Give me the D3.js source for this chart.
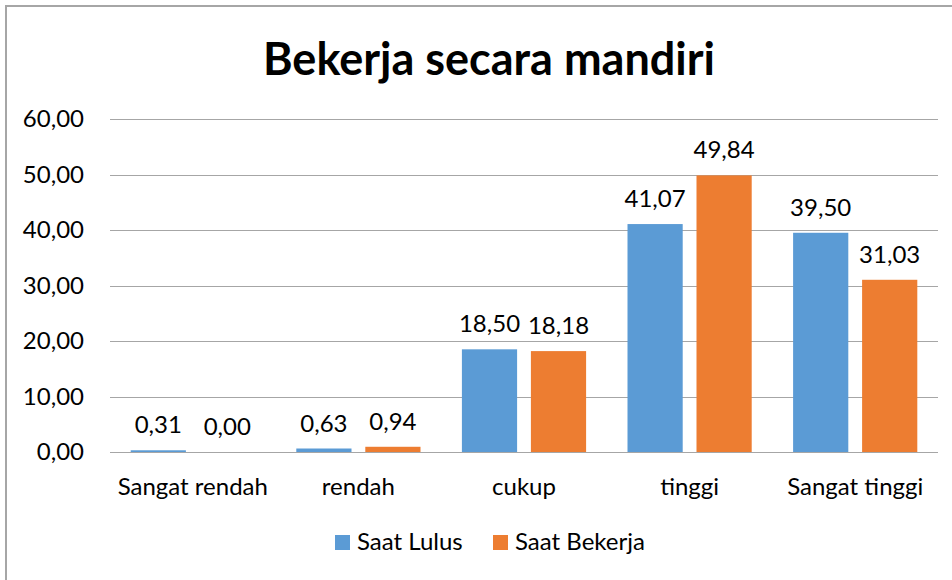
<!DOCTYPE html>
<meta charset="utf-8">
<style>
body { margin: 0; background: #fff; }
text { font-family: Lato, "Open Sans", sans-serif; fill: #000; }
</style>
<body>
<div id="graph"></div>
<script src="https://cdn.jsdelivr.net/npm/d3@7"></script>
<script>
var categories = ["Sangat rendah", "rendah", "cukup", "tinggi", "Sangat tinggi"];
var series = ["Saat Lulus", "Saat Bekerja"];
var saatLulus = [0.31, 0.63, 18.50, 41.07, 39.50];
var saatBekerja = [0.00, 0.94, 18.18, 49.84, 31.03];
var yTicks = [0, 10, 20, 30, 40, 50, 60];
var colors = ["#5B9BD5", "#ED7D31"];

var fmt = function(v) { return v.toFixed(2).replace(".", ","); };

var svg = d3.select("#graph").append("svg")
    .attr("width", 952)
    .attr("height", 580);

// chart frame
svg.append("rect")
    .attr("x", 6).attr("y", 6)
    .attr("width", 980).attr("height", 620)
    .style("fill", "white")
    .style("stroke", "#a6a6a6")
    .style("stroke-width", 2);

svg.append("text")
    .attr("x", 489)
    .attr("y", 75)
    .attr("text-anchor", "middle")
    .style("font-size", "45px")
    .style("font-weight", "bold")
    .text("Bekerja secara mandiri");

var x0 = d3.scaleBand().domain(categories).range([110, 938]);
var x1 = d3.scaleBand().domain(series).range([0, x0.bandwidth()])
    .paddingInner(0.2).paddingOuter(0.3);
var y = d3.scaleLinear().domain([0, 60]).range([452, 119]);

// gridlines
svg.selectAll(".grid")
    .data(yTicks)
    .enter().append("line")
    .attr("x1", 110).attr("x2", 938)
    .attr("y1", d => Math.round(y(d)) + 0.5)
    .attr("y2", d => Math.round(y(d)) + 0.5)
    .style("stroke", "#a6a6a6")
    .style("stroke-width", 1);

svg.selectAll(".ytick")
    .data(yTicks)
    .enter().append("text")
    .attr("x", 84)
    .attr("y", d => y(d) + 8)
    .attr("text-anchor", "end")
    .style("font-size", "24px")
    .text(d => fmt(d));

var rows = categories.map((c, i) => ({cat: c, vals: [saatLulus[i], saatBekerja[i]]}));

var groups = svg.selectAll(".grp")
    .data(rows)
    .enter().append("g")
    .attr("transform", d => "translate(" + x0(d.cat) + ",0)");

groups.selectAll("rect")
    .data(d => d.vals.map((v, j) => ({s: series[j], v: v, j: j})))
    .enter().append("rect")
    .attr("x", d => x1(d.s))
    .attr("width", x1.bandwidth())
    .attr("y", d => y(d.v))
    .attr("height", d => y(0) - y(d.v))
    .style("fill", d => colors[d.j]);

groups.selectAll(".val")
    .data(d => d.vals.map((v, j) => ({s: series[j], v: v, j: j})))
    .enter().append("text")
    .attr("x", d => x1(d.s) + x1.bandwidth() / 2)
    .attr("y", d => y(d.v) - 17)
    .attr("text-anchor", "middle")
    .style("font-size", "24px")
    .text(d => fmt(d.v));

svg.selectAll(".xlab")
    .data(categories)
    .enter().append("text")
    .attr("x", d => x0(d) + x0.bandwidth() / 2)
    .attr("y", 495)
    .attr("text-anchor", "middle")
    .style("font-size", "24px")
    .text(d => d);

// legend
var legX = [335, 493];
var legend = svg.selectAll(".legend")
    .data(series)
    .enter().append("g")
    .attr("transform", (d, i) => "translate(" + legX[i] + ",535)");
legend.append("rect")
    .attr("width", 15).attr("height", 15)
    .style("fill", (d, i) => colors[i]);
legend.append("text")
    .attr("x", 22)
    .attr("y", 15)
    .style("font-size", "24px")
    .text(d => d);
</script>
</body>
